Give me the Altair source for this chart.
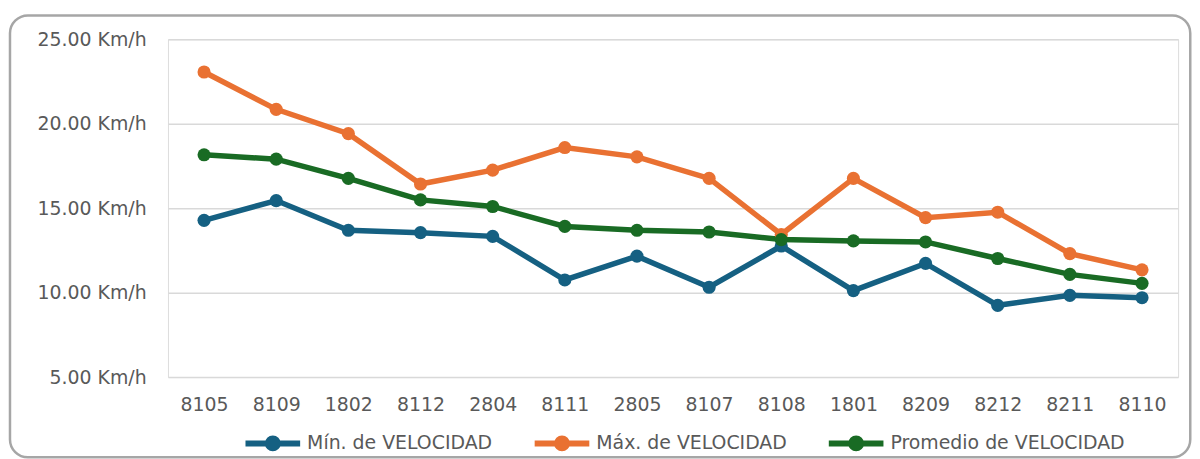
import altair as alt
import pandas as pd

categories = ["8105", "8109", "1802", "8112", "2804", "8111", "2805",
              "8107", "8108", "1801", "8209", "8212", "8211", "8110"]
min_vel = [14.28, 15.45, 13.69, 13.55, 13.33, 10.75, 12.16,
           10.32, 12.76, 10.12, 11.73, 9.25, 9.84, 9.70]
max_vel = [23.06, 20.85, 19.41, 16.43, 17.25, 18.59, 18.04,
           16.76, 13.44, 16.76, 14.44, 14.76, 12.31, 11.35]
avg_vel = [18.16, 17.90, 16.76, 15.49, 15.10, 13.92, 13.69,
           13.59, 13.14, 13.06, 13.00, 12.02, 11.08, 10.55]
series_names = ["Mín. de VELOCIDAD", "Máx. de VELOCIDAD", "Promedio de VELOCIDAD"]
series_colors = ["#156082", "#E97132", "#196B24"]
y_ticks = [5, 10, 15, 20, 25]

rows = []
for name, vals in zip(series_names, [min_vel, max_vel, avg_vel]):
    for c, v in zip(categories, vals):
        rows.append({"cat": c, "val": v, "series": name})
df = pd.DataFrame(rows)

FONT = "DejaVu Sans"
TXT = "#595959"
FS = 19

# legend symbol: line with a filled-looking dot (stroke-only path)
r1, r2, r3 = 0.04, 0.11, 0.18
def circ(r):
    return f"M{r},0A{r},{r} 0 1,1 {-r},0A{r},{r} 0 1,1 {r},0"
sym_path = "M-1,0L1,0" + circ(r1) + circ(r2) + circ(r3)

lines = alt.Chart(df).mark_line(
    strokeWidth=5.5,
    point=alt.OverlayMarkDef(filled=True, size=175, opacity=1),
).encode(
    x=alt.X("cat:N", sort=categories,
            axis=alt.Axis(title=None, labelAngle=0, ticks=False, domain=False, grid=False,
                          labelFontSize=FS, labelColor=TXT, labelFont=FONT, labelPadding=19)),
    y=alt.Y("val:Q", scale=alt.Scale(domain=[5, 25], nice=False, zero=False),
            axis=alt.Axis(title=None, values=y_ticks,
                          labelExpr="format(datum.value, '.2f') + ' Km/h'",
                          ticks=False, domain=False, gridColor="#D9D9D9", gridWidth=1.5,
                          labelFontSize=FS, labelColor=TXT, labelFont=FONT, labelPadding=22)),
    color=alt.Color("series:N",
                    scale=alt.Scale(domain=series_names, range=series_colors),
                    legend=alt.Legend(title=None, orient="none", direction="horizontal",
                                      legendX=75, legendY=376,
                                      symbolType=sym_path, symbolSize=3025,
                                      symbolStrokeWidth=6, symbolFillColor="transparent",
                                      labelFontSize=FS, labelColor=TXT, labelFont=FONT,
                                      labelLimit=0, labelOffset=4, columnPadding=30)),
)

border = alt.Chart(pd.DataFrame({"b": [0]})).mark_rect(
    fill="transparent", stroke="#A6A6A6", strokeWidth=2.5, cornerRadius=18
).encode(
    x=alt.value(-159), x2=alt.value(1028.75),
    y=alt.value(-24), y2=alt.value(420.75),
)

chart = alt.layer(border, lines).properties(
    width=1016.5, height=340,
    padding={"left": 0, "top": 4, "right": 0, "bottom": 0},
    background="white",
).configure_view(strokeWidth=0).configure(font=FONT)

chart.save("out.html", embed_options={"renderer": "svg", "actions": False})
